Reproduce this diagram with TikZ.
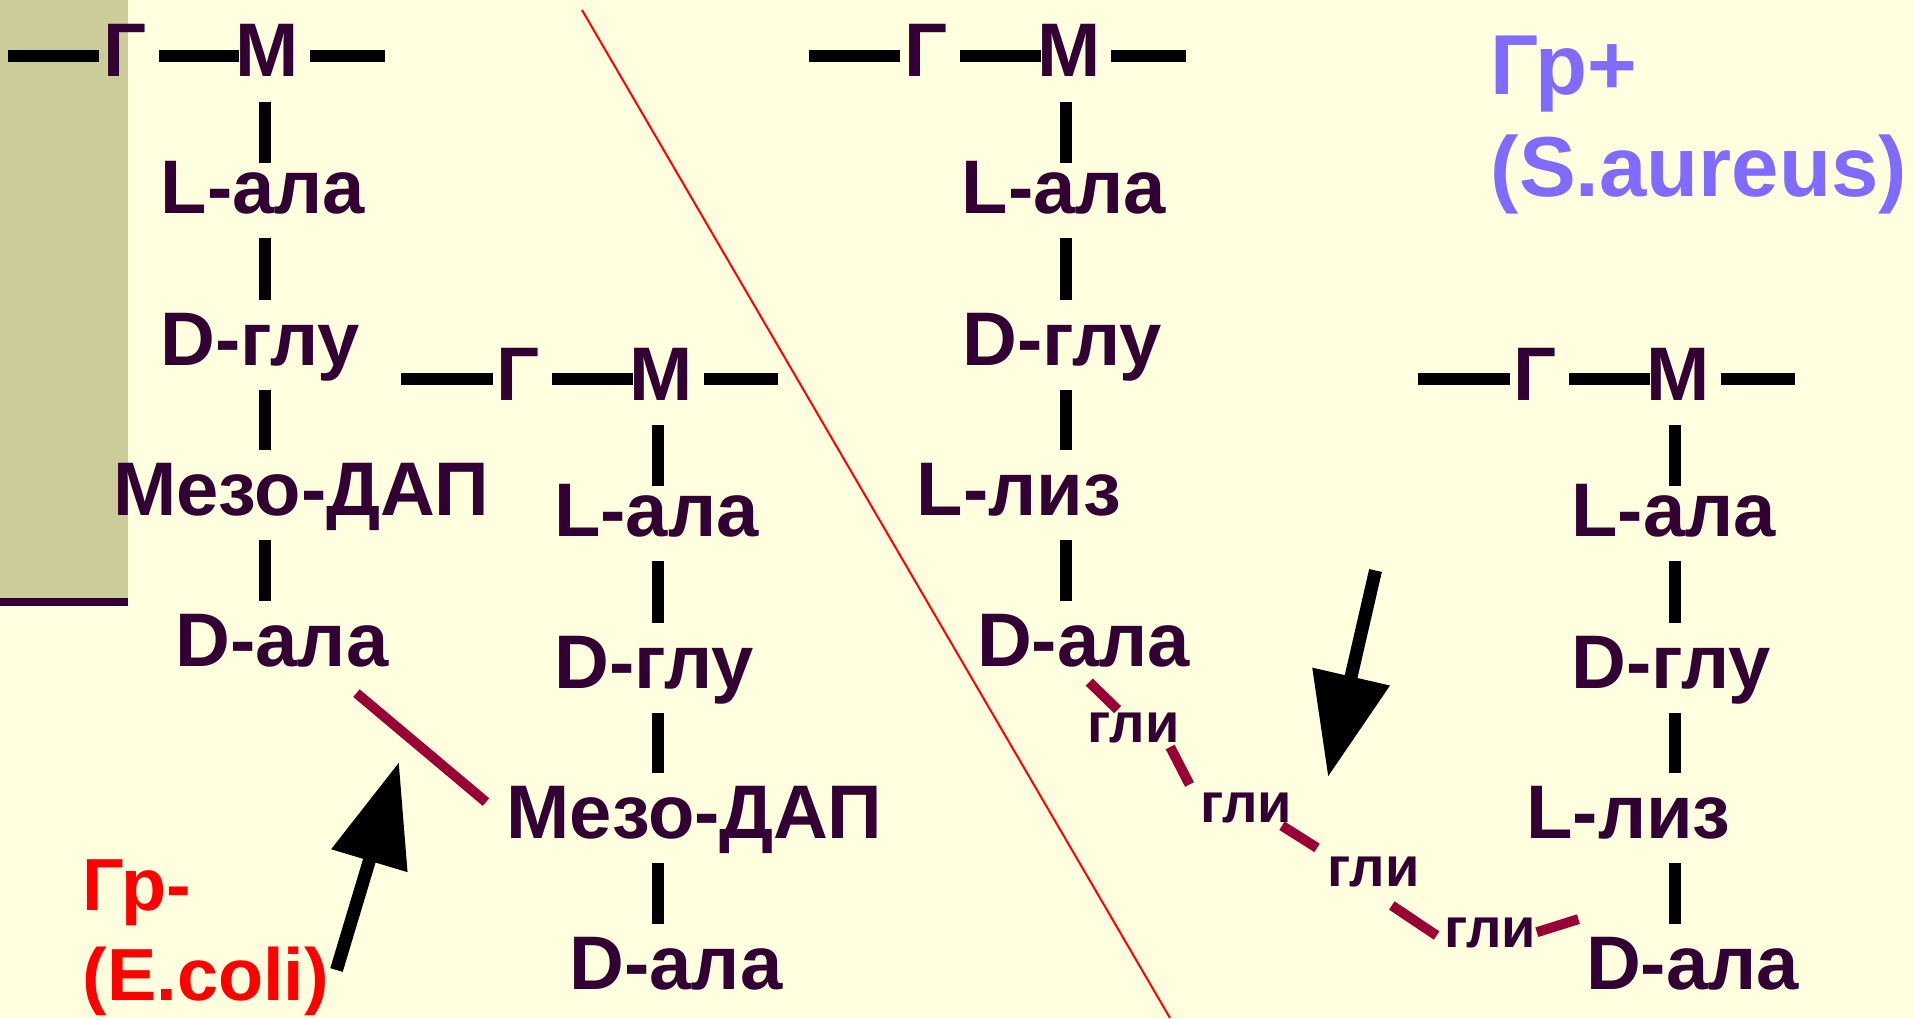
\documentclass[tikz,border=0pt]{standalone}
\usepackage{fontspec}
\setmainfont{Liberation Sans}
\usetikzlibrary{arrows.meta}

\definecolor{paleyel}{RGB}{255,255,224}
\definecolor{khaki}{RGB}{204,204,153}
\definecolor{plum}{RGB}{51,0,51}
\definecolor{crimlink}{RGB}{153,0,51}
\definecolor{grpos}{RGB}{128,106,255}

\newcommand\lblfont{\bfseries\fontsize{21.6}{26}\selectfont}
\newcommand\glifont{\bfseries\fontsize{15.9}{19}\selectfont}
\newcommand\grpfont{\bfseries\fontsize{24.2}{29}\selectfont}
\newcommand\grmfont{\bfseries\fontsize{21}{25}\selectfont}

\begin{document}
\begin{tikzpicture}[x=0.01cm,y=-0.01cm,
	lbl/.style={font=\lblfont,text=plum,inner sep=0pt,outer sep=0pt,anchor=base},
	gli/.style={font=\glifont,text=plum,inner sep=0pt,outer sep=0pt,anchor=base},
	bd/.style={draw=black,line width=0.12cm,shorten <=0.25cm,shorten >=0.13cm},
	gm/.style={draw=black,line width=0.125cm},
	lk/.style={draw=crimlink,line width=0.1cm},
	ar/.style={-{Triangle[length=1.03cm,width=0.76cm]},draw=black,line width=0.13cm},
	divline/.style={draw=red,line width=0.02cm}]
	\fill[paleyel] (0,0) rectangle (1915,1018);
	\useasboundingbox (0,0) rectangle (1915,1018);
	\fill[khaki] (0,0) rectangle (128,598);
	\draw[plum,line width=0.08cm] (0,601.5) -- (128,601.5);
	\coordinate (sepTop) at (582,10);
	\coordinate (sepBot) at (1170,1018);
	\draw[divline] (sepTop) -- (sepBot);
	\begin{scope}[shift={(264.5,56)}]
		\coordinate (axA) at (0,0);
		\coordinate (lA) at (-257,0);
		\coordinate (rA) at (120,0);
		\node[lbl] (GA) at (-139.5,21) {Г};
		\node[lbl] (MA) at (3,21) {М};
		\node[lbl] (laA) at (-1.5,157) {L-ала};
		\node[lbl] (gluA) at (-4,309) {D-глу};
		\node[lbl] (mezoA) at (36.5,459) {Мезо-ДАП};
		\node[lbl] (dalaA) at (17.5,610) {D-ала};
		\draw[gm,shorten >=0.04cm] (lA) -- (lA -| GA.west);
		\draw[gm,shorten <=0.12cm,shorten >=-0.035cm] (axA -| GA.east) -- (axA -| MA.west);
		\draw[gm,shorten <=0.105cm] (axA -| MA.east) -- (rA);
		\draw[bd,shorten >=-0.02cm] (axA |- MA.base) -- (axA |- laA.north);
		\draw[bd] (axA |- laA.base) -- (axA |- gluA.north);
		\draw[bd] (axA |- gluA.base) -- (axA |- mezoA.north);
		\draw[bd] (axA |- mezoA.base) -- (axA |- dalaA.north);
	\end{scope}
	\begin{scope}[shift={(658,379)}]
		\coordinate (axB) at (0,0);
		\coordinate (lB) at (-257,0);
		\coordinate (rB) at (120,0);
		\node[lbl] (GB) at (-139.5,21) {Г};
		\node[lbl] (MB) at (3.5,21) {М};
		\node[lbl] (laB) at (-1.5,157) {L-ала};
		\node[lbl] (gluB) at (-3.5,309) {D-глу};
		\node[lbl] (mezoB) at (36.5,459) {Мезо-ДАП};
		\node[lbl] (dalaB) at (18,610) {D-ала};
		\draw[gm,shorten >=0.04cm] (lB) -- (lB -| GB.west);
		\draw[gm,shorten <=0.12cm,shorten >=-0.035cm] (axB -| GB.east) -- (axB -| MB.west);
		\draw[gm,shorten <=0.105cm] (axB -| MB.east) -- (rB);
		\draw[bd,shorten >=-0.02cm] (axB |- MB.base) -- (axB |- laB.north);
		\draw[bd] (axB |- laB.base) -- (axB |- gluB.north);
		\draw[bd] (axB |- gluB.base) -- (axB |- mezoB.north);
		\draw[bd] (axB |- mezoB.base) -- (axB |- dalaB.north);
	\end{scope}
	\begin{scope}[shift={(1065.5,56)}]
		\coordinate (axC) at (0,0);
		\coordinate (lC) at (-257,0);
		\coordinate (rC) at (120,0);
		\node[lbl] (GC) at (-139.5,21) {Г};
		\node[lbl] (MC) at (3.5,21) {М};
		\node[lbl] (laC) at (-1.5,157) {L-ала};
		\node[lbl] (gluC) at (-3.5,309) {D-глу};
		\node[lbl] (lizC) at (-46.5,459) {L-лиз};
		\node[lbl] (dalaC) at (18,610) {D-ала};
		\draw[gm,shorten >=0.04cm] (lC) -- (lC -| GC.west);
		\draw[gm,shorten <=0.12cm,shorten >=-0.035cm] (axC -| GC.east) -- (axC -| MC.west);
		\draw[gm,shorten <=0.105cm] (axC -| MC.east) -- (rC);
		\draw[bd,shorten >=-0.02cm] (axC |- MC.base) -- (axC |- laC.north);
		\draw[bd] (axC |- laC.base) -- (axC |- gluC.north);
		\draw[bd] (axC |- gluC.base) -- (axC |- lizC.north);
		\draw[bd] (axC |- lizC.base) -- (axC |- dalaC.north);
	\end{scope}
	\begin{scope}[shift={(1675,379)}]
		\coordinate (axD) at (0,0);
		\coordinate (lD) at (-257,0);
		\coordinate (rD) at (120,0);
		\node[lbl] (GD) at (-139.5,21) {Г};
		\node[lbl] (MD) at (3.5,21) {М};
		\node[lbl] (laD) at (-1.5,157) {L-ала};
		\node[lbl] (gluD) at (-3.5,309) {D-глу};
		\node[lbl] (lizD) at (-46.5,459) {L-лиз};
		\node[lbl] (dalaD) at (17.5,610) {D-ала};
		\draw[gm,shorten >=0.04cm] (lD) -- (lD -| GD.west);
		\draw[gm,shorten <=0.12cm,shorten >=-0.035cm] (axD -| GD.east) -- (axD -| MD.west);
		\draw[gm,shorten <=0.105cm] (axD -| MD.east) -- (rD);
		\draw[bd,shorten >=-0.02cm] (axD |- MD.base) -- (axD |- laD.north);
		\draw[bd] (axD |- laD.base) -- (axD |- gluD.north);
		\draw[bd] (axD |- gluD.base) -- (axD |- lizD.north);
		\draw[bd] (axD |- lizD.base) -- (axD |- dalaD.north);
	\end{scope}
	\node[gli] (gli1) at (1133.5,742) {гли};
	\node[gli] (gli2) at (1246,822) {гли};
	\node[gli] (gli3) at (1373.5,886) {гли};
	\node[gli] (gli4) at (1490,947) {гли};
	\draw[lk,shorten <=0.41cm,shorten >=0.27cm] ([xshift=0.43cm]dalaA.south) -- (mezoB.west);
	\draw[lk,shorten <=0.22cm,shorten >=0.04cm] ([xshift=-0.10cm]dalaC.south) -- ([xshift=-0.13cm]gli1.north);
	\draw[lk,shorten <=0.05cm,shorten >=0.09cm] ([xshift=-0.115cm]gli1.south east) -- ([xshift=-0.065cm]gli2.north west);
	\draw[lk,shorten <=0.06cm,shorten >=0.16cm] ([xshift=-0.15cm]gli2.south east) -- ([xshift=0.03cm]gli3.north west);
	\draw[lk,shorten <=0.34cm,shorten >=0.09cm] ([xshift=-0.10cm]gli3.south) -- ([yshift=-0.08cm]gli4.west);
	\draw[lk,shorten <=0.01cm,shorten >=0.08cm] (gli4.east) -- ([yshift=0.20cm]dalaD.north west);
	\coordinate (arAtail) at (336.5,970);
	\coordinate (arAtip) at (399,762);
	\coordinate (arBtail) at (1375.5,570.5);
	\coordinate (arBtip) at (1328,777);
	\draw[ar] (arAtail) -- (arAtip);
	\draw[ar] (arBtail) -- (arBtip);
	\node[font=\grmfont,text=red,inner sep=0pt,anchor=base west] (grNeg) at (82,910) {Гр-};
	\node[font=\grmfont,text=red,inner sep=0pt,anchor=base west] (ecoli) at (82,1000) {(E.coli)};
	\node[font=\grpfont,text=grpos,inner sep=0pt,anchor=base west] (grPos) at (1490,94) {Гр+};
	\node[font=\grpfont,text=grpos,inner sep=0pt,anchor=base west] (saureus) at (1490,196) {(S.aureus)};
\end{tikzpicture}
\end{document}
